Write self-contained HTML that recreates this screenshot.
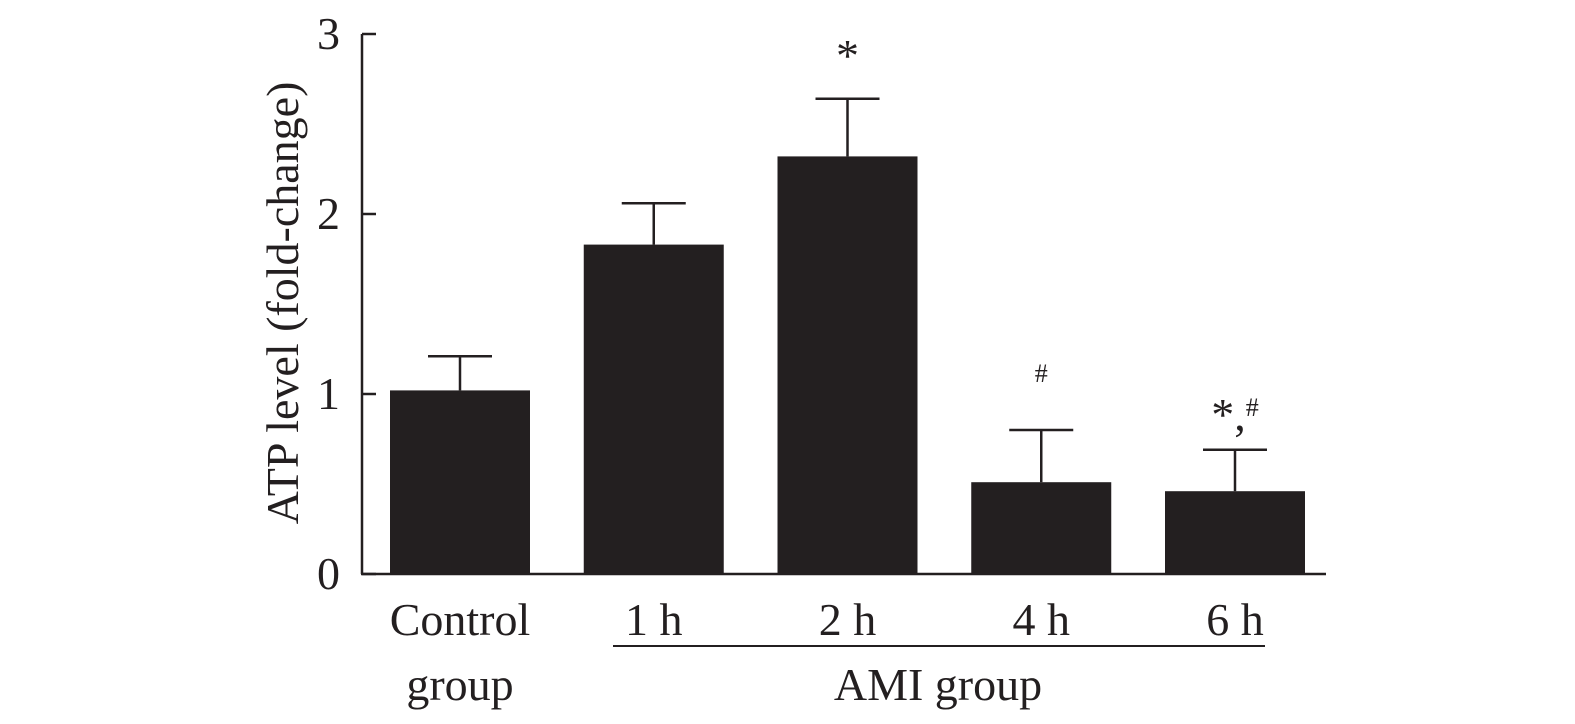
<!DOCTYPE html>
<html><head><meta charset="utf-8"><style>
html,body{margin:0;padding:0;background:#fff;}
svg{display:block;font-family:"Liberation Serif",serif;}
</style></head><body>
<svg id="chart" width="1575" height="724" viewBox="0 0 1575 724">
<g id="marks"></g>
</svg>
<script>
const categories = ["Control", "1 h", "2 h", "4 h", "6 h"];
const values = [1.02, 1.83, 2.32, 0.51, 0.46];
const errors = [0.19, 0.23, 0.32, 0.29, 0.23];
const yTicks = [0, 1, 2, 3];
const annotations = ["", "", "*", "#", "*,#"];

const NS = "http://www.w3.org/2000/svg";
const svg = document.getElementById("chart");
const g = document.getElementById("marks");
const x0 = 390, step = 193.75, barW = 140;
const yBase = 574, yTop = 34, yMax = 3;
function y(v){ return yBase - v/yMax*(yBase-yTop); }
function xLeft(i){ return x0 + i*step; }
function el(tag, attrs){ const e=document.createElementNS(NS,tag); for(const k in attrs) e.setAttribute(k,attrs[k]); g.appendChild(e); return e; }

// axes
let a = el("line",{x1:362,y1:y(3),x2:362,y2:yBase,stroke:"#231f20","stroke-width":2.5});


a = el("line",{x1:361,y1:yBase,x2:1326,y2:yBase,stroke:"#231f20","stroke-width":2.5});



yTicks.forEach(t=>{
  const tk = el("line",{x1:362,y1:y(t),x2:376,y2:y(t),stroke:"#231f20","stroke-width":2.5});
  
  
  const tl = el("text",{x:340,y:y(t)+15,"text-anchor":"end","font-size":46,fill:"#231f20"});
  tl.textContent = t;
  
  
});

categories.forEach((c,i)=>{
  const xl = xLeft(i), xc = xl+barW/2;
  const b = el("rect",{x:xl,y:y(values[i]),width:barW,height:yBase-y(values[i]),fill:"#231f20"});
  
  
  const e1 = el("line",{x1:xc,y1:y(values[i]),x2:xc,y2:y(values[i]+errors[i]),stroke:"#231f20","stroke-width":2.5});
  
  
  const e2 = el("line",{x1:xc-32,y1:y(values[i]+errors[i]),x2:xc+32,y2:y(values[i]+errors[i]),stroke:"#231f20","stroke-width":2.5});
  
  
  const lab = el("text",{x:xc,y:635,"text-anchor":"middle","font-size":46,fill:"#231f20"});
  lab.textContent = c;
  
  
  if(annotations[i]){
    const top = y(values[i]+errors[i]);
    const an = el("text",{x:xc,y:top-28,"text-anchor":"middle","font-size":annotations[i]==="#"?26:46,fill:"#231f20"});
    if(annotations[i]==="*,#"){
      an.innerHTML = '<tspan font-size="46">*,</tspan><tspan font-size="26" dy="-14">#</tspan>';
      an.setAttribute('y', top-20);
    } else if(annotations[i]==="#"){
      an.textContent = "#"; an.setAttribute('y', top-48);
    } else { an.textContent = annotations[i]; }
    
    
  }
});

let t = el("text",{x:xLeft(0)+barW/2,y:700,"text-anchor":"middle","font-size":46,fill:"#231f20"});
t.textContent="group";


t = el("line",{x1:613,y1:646,x2:1265,y2:646,stroke:"#231f20","stroke-width":2});


t = el("text",{x:938,y:700,"text-anchor":"middle","font-size":46,fill:"#231f20"});
t.textContent="AMI group";


t = el("text",{x:0,y:0,"text-anchor":"middle","font-size":46,fill:"#231f20",transform:"translate(298,303) rotate(-90)"});
t.textContent="ATP level (fold-change)";


</script>
</body></html>
